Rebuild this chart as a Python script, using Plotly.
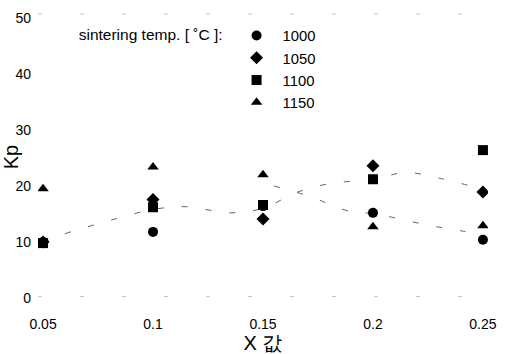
import plotly.graph_objects as go

# Composition (x value) and Kp for each sintering temperature
x_values = [0.05, 0.10, 0.15, 0.20, 0.25]
kp_1000 = [10.0, 11.8, 16.4, 15.2, 10.4]
kp_1050 = [10.0, 17.6, 14.1, 23.6, 18.9]
kp_1100 = [9.8, 16.2, 16.6, 21.2, 26.4]
kp_1150 = [19.5, 23.4, 22.0, 12.7, 12.9]

temps = ["1000", "1050", "1100", "1150"]
symbols = ["circle", "diamond", "square", "triangle-up"]

# Hand-drawn trend curves
trend_a_x = [0.05, 0.058, 0.08, 0.10, 0.115, 0.135, 0.15, 0.165, 0.18, 0.20, 0.215, 0.23, 0.25]
trend_a_y = [9.8, 11.2, 13.8, 15.8, 16.3, 15.2, 16.0, 18.8, 20.4, 21.2, 22.4, 21.4, 19.4]
trend_b_x = [0.155, 0.17, 0.19, 0.20, 0.21, 0.225, 0.24, 0.25]
trend_b_y = [20.0, 18.3, 15.4, 15.1, 14.3, 13.0, 12.0, 11.3]

y_ticks = [0, 10, 20, 30, 40, 50]
x_ticks = [0.05, 0.10, 0.15, 0.20, 0.25]
x_tick_text = ["0.05", "0.1", "0.15", "0.2", "0.25"]

fig = go.Figure()

for tx, ty in [(trend_a_x, trend_a_y), (trend_b_x, trend_b_y)]:
    fig.add_trace(go.Scatter(
        x=tx, y=ty, mode="lines", showlegend=False, hoverinfo="skip",
        line=dict(color="#666666", width=1, dash="6px,18px", shape="spline"),
    ))

for name, vals, sym in zip(temps, [kp_1000, kp_1050, kp_1100, kp_1150], symbols):
    fig.add_trace(go.Scatter(
        x=x_values, y=vals, mode="markers", name=name,
        marker=dict(symbol=sym, size=10, color="black"),
    ))

# faint frame remnants along top and bottom
for yp in [1.0, 0.012]:
    fig.add_shape(type="line", xref="paper", yref="paper", x0=0.0, x1=1.0, y0=yp, y1=yp,
                  line=dict(color="#c4c4c4", width=1, dash="4px,38px"))

fig.update_layout(
    width=510, height=354,
    margin=dict(l=38, r=22, t=14, b=54),
    paper_bgcolor="white", plot_bgcolor="white",
    font=dict(family="Liberation Sans, Arial, sans-serif", size=14, color="black"),
    legend=dict(
        x=0.086, y=0.981, xanchor="left", yanchor="top",
        title=dict(text="sintering temp. [ ˚C ]:", side="left", font=dict(size=15.5)),
        font=dict(size=14.8), bgcolor="rgba(0,0,0,0)", itemwidth=42,
    ),
    xaxis=dict(
        range=[0.0477, 0.2523], tickvals=x_ticks, ticktext=x_tick_text,
        showgrid=False, zeroline=False, showline=False, ticks="",
        ticklabelstandoff=14, automargin=False,
        title=dict(text="X 값", font=dict(size=20), standoff=0),
    ),
    yaxis=dict(
        range=[-0.36, 50.7], tickvals=y_ticks,
        showgrid=False, zeroline=False, showline=False, ticks="",
        ticklabelstandoff=6, automargin=False,
        title=dict(text="Kp", font=dict(size=20), standoff=0),
    ),
)

fig.write_html("out.html")
